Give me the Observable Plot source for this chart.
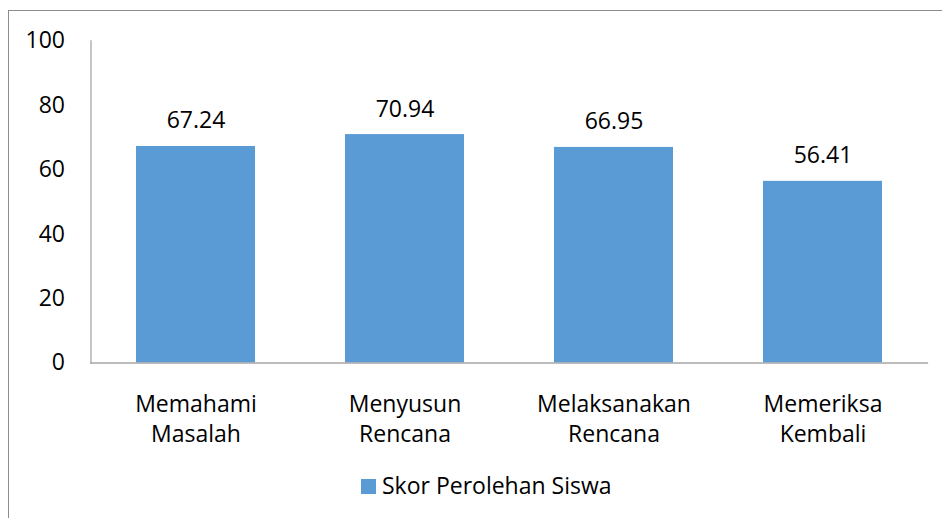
<!DOCTYPE html>
<html>
<head>
<meta charset="utf-8">
<script src="https://cdn.jsdelivr.net/npm/d3@7"></script>
<script src="https://cdn.jsdelivr.net/npm/@observablehq/plot@0.6"></script>
<style>
  html, body { margin: 0; padding: 0; background: #fff; overflow: hidden; }
  body { width: 942px; height: 518px; position: relative; font-family: "Open Sans", Lato, sans-serif; }
  #border { position: absolute; left: 8px; top: 10px; width: 1000px; height: 600px; border: 1px solid #8c8c8c; box-sizing: border-box; }
  #chart { position: absolute; left: 0; top: 0; }
  #legend { position: absolute; left: 361px; top: 474px; display: flex; align-items: center; font-size: 23px; line-height: 23px; color: #000; white-space: nowrap; }
  #legend .sw { width: 15px; height: 15px; background: #5B9BD5; margin-right: 6px; margin-top: 2px; }
</style>
</head>
<body>
<div id="border"></div>
<div id="chart"></div>
<div id="legend"></div>
<script>
const categories = ["Memahami Masalah", "Menyusun Rencana", "Melaksanakan Rencana", "Memeriksa Kembali"];
const tickLabels = ["Memahami\nMasalah", "Menyusun\nRencana", "Melaksanakan\nRencana", "Memeriksa\nKembali"];
const values = [67.24, 70.94, 66.95, 56.41];
const yTicks = [0, 20, 40, 60, 80, 100];
const seriesName = "Skor Perolehan Siswa";

const data = categories.map((c, i) => ({category: c, value: values[i]}));
const labelOf = new Map(categories.map((c, i) => [c, tickLabels[i]]));

const chart = Plot.plot({
  width: 942,
  height: 460,
  marginLeft: 90.5,
  marginRight: 15,
  marginTop: 40.5,
  marginBottom: 97.5,
  style: {fontFamily: "'Open Sans', Lato, sans-serif", fontSize: "23px", color: "#000", background: "transparent"},
  x: {domain: categories, paddingInner: 0.43, paddingOuter: 0.215, label: null},
  y: {domain: [0, 100], label: null},
  marks: [
    Plot.barY(data, {x: "category", y: "value", fill: "#5B9BD5"}),
    Plot.frame({anchor: "left", stroke: "#a6a6a6", strokeWidth: 1.3}),
    Plot.frame({anchor: "bottom", stroke: "#a6a6a6", strokeWidth: 1.3}),
    Plot.axisY({ticks: yTicks, tickSize: 0, tickPadding: 26, label: null, fontSize: 23}),
    Plot.axisX({tickSize: 0, tickPadding: 27, label: null, fontSize: 23, lineHeight: 1.33,
      tickFormat: d => labelOf.get(d)}),
    Plot.text(data, {x: "category", y: "value", text: d => d.value.toFixed(2), lineAnchor: "bottom", dy: -18, fontSize: 23, fill: "#000"})
  ]
});
document.getElementById("chart").appendChild(chart);

const legend = document.getElementById("legend");
const sw = document.createElement("div");
sw.className = "sw";
const lt = document.createElement("span");
lt.textContent = seriesName;
legend.appendChild(sw);
legend.appendChild(lt);
</script>
</body>
</html>
